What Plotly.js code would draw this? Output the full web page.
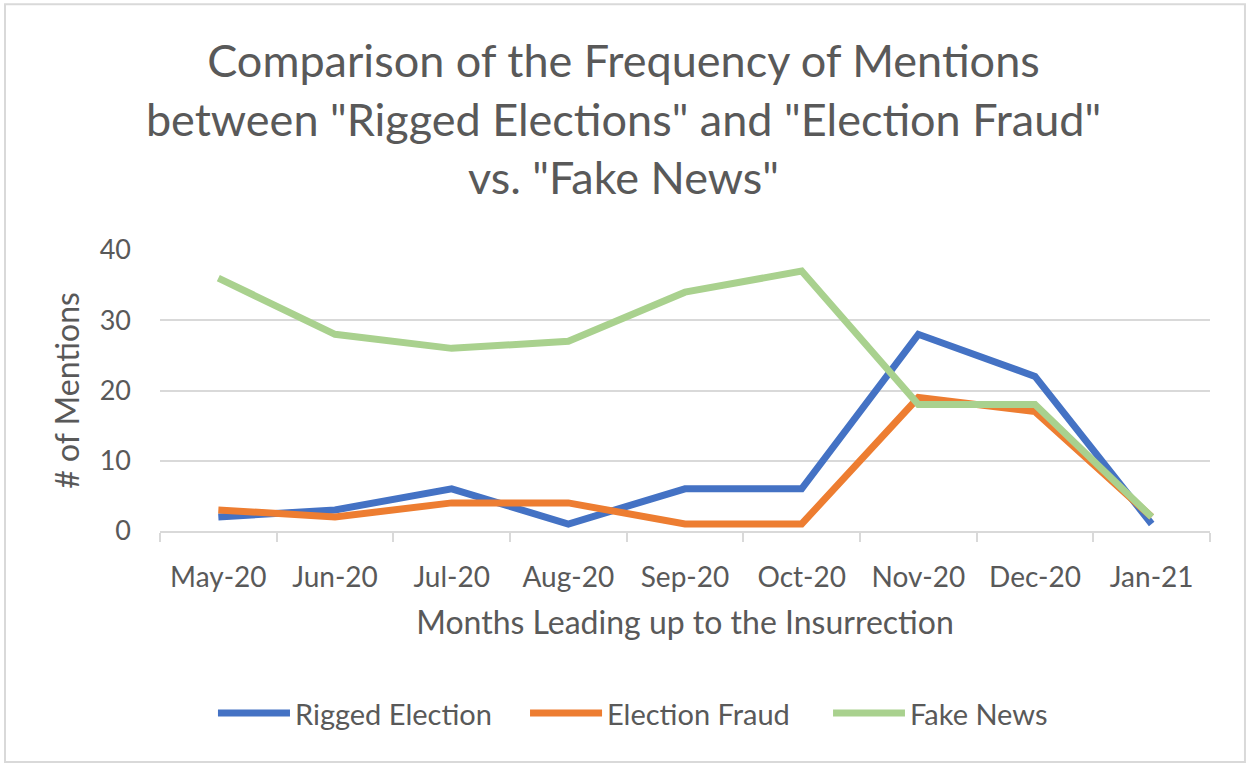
<!DOCTYPE html>
<html>
<head>
<meta charset="utf-8">
<script src="https://cdn.plot.ly/plotly-3.0.1.min.js"></script>
<style>
  html, body { margin: 0; padding: 0; background: #fff; }
  #chart { width: 1247px; height: 763px; }
</style>
</head>
<body>
<div id="chart"></div>
<script>
// Monthly mention counts
const months = ["May-20", "Jun-20", "Jul-20", "Aug-20", "Sep-20", "Oct-20", "Nov-20", "Dec-20", "Jan-21"];
const riggedElection = [2, 3, 6, 1, 6, 6, 28, 22, 1];
const electionFraud = [3, 2, 4, 4, 1, 1, 19, 17, 2];
const fakeNews = [36, 28, 26, 27, 34, 37, 18, 18, 2];
const seriesNames = ["Rigged Election", "Election Fraud", "Fake News"];
const yTicks = [0, 10, 20, 30, 40];

const FONT = "Lato, 'Open Sans', sans-serif";
const TEXT = "#595959";
const GRID = "#D9D9D9";
const COLORS = ["#4472C4", "#ED7D31", "#A9D18E"];

function series(name, values, color) {
  return {
    type: "scatter",
    mode: "lines",
    name: name,
    x: months,
    y: values,
    line: { color: color, width: 7 },
    hoverinfo: "x+y+name",
    showlegend: false
  };
}

const values = [riggedElection, electionFraud, fakeNews];
const data = values.map((v, i) => series(seriesNames[i], v, COLORS[i]));

// Legend drawn below the axis title: a wide swatch followed by the series name
const legendY = -0.648;
const legendSwatches = [[0.0552, 0.1238], [0.3524, 0.4210], [0.6410, 0.7095]];
const legendShapes = legendSwatches.map((s, i) => ({
  type: "line", xref: "paper", yref: "paper",
  x0: s[0], x1: s[1], y0: legendY, y1: legendY,
  line: { color: COLORS[i], width: 7 }
}));
const legendLabels = legendSwatches.map((s, i) => ({
  xref: "paper", yref: "paper",
  x: s[1] + 0.003, y: legendY,
  xanchor: "left", yanchor: "middle",
  text: seriesNames[i],
  showarrow: false,
  font: { family: FONT, size: 29, color: TEXT }
}));

const layout = {
  width: 1247,
  height: 763,
  paper_bgcolor: "#fff",
  plot_bgcolor: "#fff",
  margin: { l: 160, r: 37, t: 250, b: 232 },
  font: { family: FONT, color: TEXT },
  title: {
    text: 'Comparison of the Frequency of Mentions<br>between "Rigged Elections" and "Election Fraud"<br>vs. "Fake News"',
    font: { family: FONT, size: 45, color: TEXT },
    x: 0.5,
    xanchor: "center",
    y: 0.899,
    yanchor: "middle"
  },
  xaxis: {
    type: "category",
    range: [-0.5, 8.5],
    showgrid: false,
    showline: true,
    linecolor: GRID,
    linewidth: 2,
    ticks: "outside",
    tickson: "boundaries",
    ticklen: 9,
    tickwidth: 2,
    tickcolor: GRID,
    ticklabelstandoff: 20,
    tickfont: { family: FONT, size: 28, color: TEXT },
    title: {
      text: "Months Leading up to the Insurrection",
      font: { family: FONT, size: 32, color: TEXT },
      standoff: 20
    },
    fixedrange: true
  },
  yaxis: {
    range: [0, 40],
    tickvals: yTicks,
    showgrid: true,
    gridcolor: GRID,
    gridwidth: 2,
    zeroline: false,
    showline: false,
    ticks: "",
    ticklabelstandoff: 28,
    tickfont: { family: FONT, size: 27, color: TEXT },
    title: {
      text: "# of Mentions",
      font: { family: FONT, size: 32, color: TEXT },
      standoff: 10
    },
    fixedrange: true
  },
  showlegend: false,
  annotations: legendLabels,
  shapes: [
    {
      type: "rect", xref: "paper", yref: "paper",
      x0: -0.1476, x1: 1.0333, y0: -0.822, y1: 1.875,
      line: { color: GRID, width: 2 },
      layer: "below"
    }
  ].concat(legendShapes)
};

Plotly.newPlot("chart", data, layout, { displayModeBar: false, staticPlot: true });
</script>
</body>
</html>
